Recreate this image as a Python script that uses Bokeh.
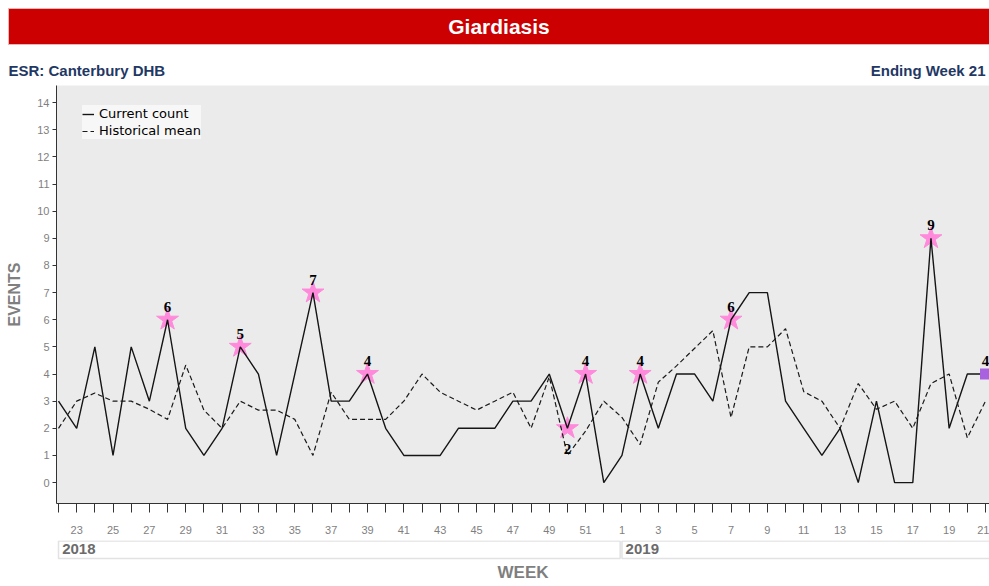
from bokeh.plotting import figure
from bokeh.models import Range1d, FixedTicker, ColumnDataSource
from bokeh.layouts import column
from bokeh.core.properties import value
from bokeh.embed import file_html
from bokeh.resources import INLINE

# ---------------- data ----------------
years = [2018] * 31 + [2019] * 21
weeks = list(range(22, 53)) + list(range(1, 22))
current_count = [3, 2, 5, 1, 5, 3, 6, 2, 1, 2, 5, 4, 1, 4, 7, 3, 3, 4, 2, 1,
                 1, 1, 2, 2, 2, 3, 3, 4, 2, 4, 0, 1, 4, 2, 4, 4, 3, 6, 7, 7,
                 3, 2, 1, 2, 0, 3, 0, 0, 9, 2, 4, 4]
historical_mean = [2.0, 3.0, 3.3, 3.0, 3.0, 2.7, 2.33, 4.33, 2.67, 2.0, 3.0, 2.67,
                   2.67, 2.33, 1.0, 3.33, 2.33, 2.33, 2.33, 3.0, 4.0, 3.33, 3.0,
                   2.67, 3.0, 3.33, 2.0, 3.9, 1.0, 1.9, 3.0, 2.4, 1.4, 3.7, 4.3,
                   4.95, 5.6, 2.4, 5.0, 5.0, 5.67, 3.35, 3.0, 2.0, 3.65, 2.7, 3.0,
                   2.0, 3.65, 4.0, 1.65, 3.0]
flag_weeks = [(2018, 28), (2018, 32), (2018, 36), (2018, 39), (2018, 50),
              (2018, 51), (2019, 2), (2019, 7), (2019, 18)]
label_below_weeks = [(2018, 50)]
current_week = (2019, 21)
year_labels = ["2018", "2019"]
title_text = "Giardiasis"
left_header = "ESR: Canterbury DHB"
right_header = "Ending Week 21"

# ---------------- derived ----------------
idx = list(range(len(weeks)))
key = {(y, w): i for i, (y, w) in enumerate(zip(years, weeks))}

FONT = "Liberation Sans"
GRAY = "#7f7f7f"
W = 989


def no_align(fig):
    if "frame_align" in fig.properties():
        fig.frame_align = False


# ---------------- header ----------------
HH = 85
hdr = figure(width=W, height=HH, x_range=Range1d(0, W), y_range=Range1d(0, HH),
             x_axis_location=None, y_axis_location=None, toolbar_location=None,
             output_backend="svg", min_border=0, min_border_left=0,
             min_border_right=0, min_border_top=0, min_border_bottom=0,
             outline_line_color=None,
             background_fill_color="white", border_fill_color="white")
no_align(hdr)
hdr.grid.visible = False
hdr.quad(left=[8], right=[W + 2], bottom=[HH - 44], top=[HH - 8],
         fill_color="#CC0000", line_color="#E9B5B5", line_width=1)
hdr.text(x=[(8 + W) / 2], y=[HH - 26], text=[title_text], text_color="white",
         text_font=value(FONT), text_font_style="bold", text_font_size="21px",
         text_align="center", text_baseline="middle")
hdr.text(x=[8], y=[HH - 70], text=[left_header], text_color="#1F3864",
         text_font=value(FONT), text_font_style="bold", text_font_size="15px",
         text_align="left", text_baseline="middle")
hdr.text(x=[W - 4], y=[HH - 70], text=[right_header], text_color="#1F3864",
         text_font=value(FONT), text_font_style="bold", text_font_size="15px",
         text_align="right", text_baseline="middle")

# ---------------- main plot ----------------
p = figure(width=W, height=455, x_range=Range1d(-0.11, 51.22),
           y_range=Range1d(-0.77, 14.63), toolbar_location=None,
           output_backend="svg", min_border_left=56, min_border_right=0,
           min_border_top=0, min_border_bottom=37,
           background_fill_color="#EBEBEB", border_fill_color="white",
           outline_line_color=None)
p.grid.visible = False

fi = [key[k] for k in flag_weeks]
fsrc = ColumnDataSource(dict(x=fi, y=[current_count[i] for i in fi]))
p.scatter("x", "y", source=fsrc, marker="star", size=23,
          fill_color="#FF8ADB", line_color="#FF8ADB")

p.line(idx, current_count, line_color="#151515", line_width=1.4,
       legend_label="Current count")
p.line(idx, historical_mean, line_color="#1a1a1a", line_width=1.2,
       line_dash="5 3", legend_label="Historical mean")

ci = key[current_week]
p.scatter([ci], [current_count[ci]], marker="square", size=11,
          fill_color="#A862E0", line_color=None)

above = [i for i, k in zip(fi, flag_weeks) if k not in label_below_weeks] + [ci]
below = [key[k] for k in label_below_weeks]
p.text(x=above, y=[current_count[i] for i in above],
       text=[str(current_count[i]) for i in above],
       text_font=value("Liberation Serif"), text_font_style="bold",
       text_font_size="15px", text_color="black", text_align="center",
       text_baseline="bottom", y_offset=-8)
p.text(x=below, y=[current_count[i] for i in below],
       text=[str(current_count[i]) for i in below],
       text_font=value("Liberation Serif"), text_font_style="bold",
       text_font_size="15px", text_color="black", text_align="center",
       text_baseline="top", y_offset=16)

# x axis
xa = p.xaxis[0]
xa.ticker = FixedTicker(ticks=idx)
xa.major_label_overrides = {i: (str(w) if w % 2 == 1 else "") for i, w in zip(idx, weeks)}
xa.major_tick_out = 9
xa.major_tick_in = 0
xa.minor_tick_line_color = None
xa.axis_line_color = "#333333"
xa.major_tick_line_color = "#333333"
xa.major_label_text_color = GRAY
xa.major_label_text_font = FONT
xa.major_label_text_font_size = "11px"
xa.major_label_standoff = 13

# y axis
ya = p.yaxis[0]
ya.ticker = FixedTicker(ticks=list(range(0, 15)))
ya.major_tick_out = 4
ya.major_tick_in = 0
ya.minor_tick_line_color = None
ya.axis_line_color = "#333333"
ya.major_tick_line_color = "#333333"
ya.major_label_text_color = GRAY
ya.major_label_text_font = FONT
ya.major_label_text_font_size = "11px"
ya.major_label_standoff = 3
ya.axis_label = "EVENTS"
ya.axis_label_text_font = FONT
ya.axis_label_text_font_style = "bold"
ya.axis_label_text_font_size = "16px"
ya.axis_label_text_color = GRAY
ya.axis_label_standoff = 11

# legend
lg = p.legend[0]
lg.location = (26, 364)
lg.background_fill_color = "#F7F7F7"
lg.background_fill_alpha = 1.0
lg.border_line_color = None
lg.label_text_font = "DejaVu Sans"
lg.label_text_font_size = "13px"
lg.label_text_color = "black"
lg.glyph_width = 12
lg.glyph_height = 12
lg.label_height = 17
lg.label_standoff = 5
lg.spacing = 0
lg.padding = 9
lg.margin = 0

# ---------------- footer (years + WEEK) ----------------
FH = 46
ft = figure(width=W, height=FH, x_range=p.x_range, y_range=Range1d(0, FH),
            x_axis_location=None, y_axis_location=None, toolbar_location=None,
            output_backend="svg", min_border_left=56, min_border_right=0,
            min_border_top=0, min_border_bottom=0, outline_line_color=None,
            background_fill_color="white", border_fill_color="white")
ft.grid.visible = False
lefts, rights = [], []
for ylab in year_labels:
    ids = [i for i, y in zip(idx, years) if str(y) == ylab]
    lefts.append(ids[0])
    rights.append(ids[-1] + 0.9)
ft.quad(left=lefts, right=rights, bottom=[FH - 18] * 2, top=[FH - 0.5] * 2,
        fill_color="white", line_color="#E2E2E2", line_width=1.5)
ft.text(x=[l + 0.2 for l in lefts], y=[FH - 8] * 2, text=year_labels,
        text_font=value(FONT), text_font_style="bold", text_font_size="15px",
        text_color="#6b6b6b", text_align="left", text_baseline="middle")
ft.text(x=[(p.x_range.start + p.x_range.end) / 2], y=[FH - 32], text=["WEEK"],
        text_font=value(FONT), text_font_style="bold", text_font_size="17px",
        text_color=GRAY, text_align="center", text_baseline="middle")

layout = column(hdr, p, ft, spacing=0)
open("out.html", "w").write(file_html(layout, INLINE))
